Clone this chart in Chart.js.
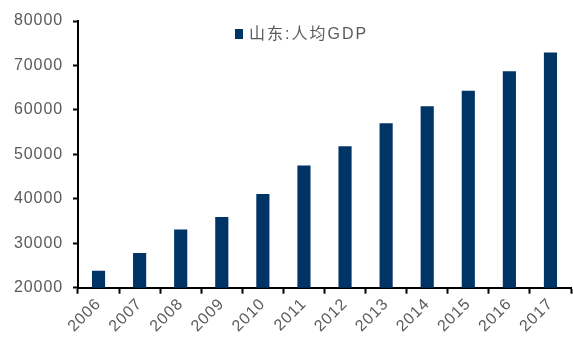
<!DOCTYPE html>
<html>
<head>
<meta charset="utf-8">
<script src="https://cdn.jsdelivr.net/npm/chart.js@4/dist/chart.umd.min.js"></script>
<style>
  html, body { margin: 0; padding: 0; background: #fff; }
  #wrap { width: 573px; height: 342px; position: relative; }
</style>
</head>
<body>
<div id="wrap"><canvas id="chart-gdp"></canvas></div>
<script>
// 山东人均GDP（元）
const years = ['2006', '2007', '2008', '2009', '2010', '2011', '2012', '2013', '2014', '2015', '2016', '2017'];
const gdpPerCapita = [23800, 27800, 33100, 35900, 41100, 47500, 51800, 57000, 60800, 64300, 68700, 72900];
const seriesName = '山东:人均GDP';

const barColor = '#003366';
const textColor = '#5a5a5a';
const fontFamily = "'Liberation Sans', Arial, 'Noto Sans CJK SC', sans-serif";

// slightly wider digits for the axis labels
const spacedText = {
    id: 'spacedText',
    beforeLayout(chart) { chart.ctx.letterSpacing = '0.9px'; },
    beforeDraw(chart) { chart.ctx.letterSpacing = '0.9px'; }
};

// legend sits inside the plot area, near the top
const innerLegend = {
    id: 'innerLegend',
    afterDraw(chart) {
        const ctx = chart.ctx;
        const area = chart.chartArea;
        const x = area.left + 157;
        const y = area.top + 13;
        ctx.save();
        ctx.fillStyle = barColor;
        ctx.fillRect(x, y - 5, 8, 10);
        ctx.fillStyle = textColor;
        ctx.font = '16px ' + fontFamily;
        ctx.textBaseline = 'middle';
        ctx.letterSpacing = '2px';
        ctx.fillText(seriesName, x + 14, y + 1);
        ctx.restore();
    }
};

const ctxGdp = document.getElementById('chart-gdp').getContext('2d');
new Chart(ctxGdp, {
    type: 'bar',
    data: {
        labels: years,
        datasets: [{
            label: seriesName,
            data: gdpPerCapita,
            backgroundColor: barColor,
            borderWidth: 0,
            barPercentage: 0.32,
            categoryPercentage: 1
        }]
    },
    options: {
        responsive: true,
        maintainAspectRatio: false,
        animation: false,
        layout: {
            padding: { top: 21, right: 2, left: 4, bottom: 5 }
        },
        plugins: {
            legend: { display: false },
            tooltip: { enabled: false }
        },
        scales: {
            x: {
                offset: true,
                border: { color: '#000', width: 2 },
                grid: {
                    offset: true,
                    drawOnChartArea: false,
                    drawTicks: true,
                    tickLength: 6,
                    tickWidth: 2,
                    tickColor: '#000'
                },
                ticks: {
                    color: textColor,
                    font: { size: 16, family: fontFamily },
                    maxRotation: 45,
                    minRotation: 45,
                    padding: 1
                }
            },
            y: {
                min: 20000,
                max: 80000,
                border: { color: '#000', width: 2 },
                grid: {
                    drawOnChartArea: false,
                    drawTicks: true,
                    tickLength: 5,
                    tickWidth: 2,
                    tickColor: '#000'
                },
                ticks: {
                    stepSize: 10000,
                    color: textColor,
                    font: { size: 16, family: fontFamily },
                    padding: 10,
                    callback: function (value) {
                        return String(value);
                    }
                }
            }
        }
    },
    plugins: [spacedText, innerLegend]
});
</script>
</body>
</html>
